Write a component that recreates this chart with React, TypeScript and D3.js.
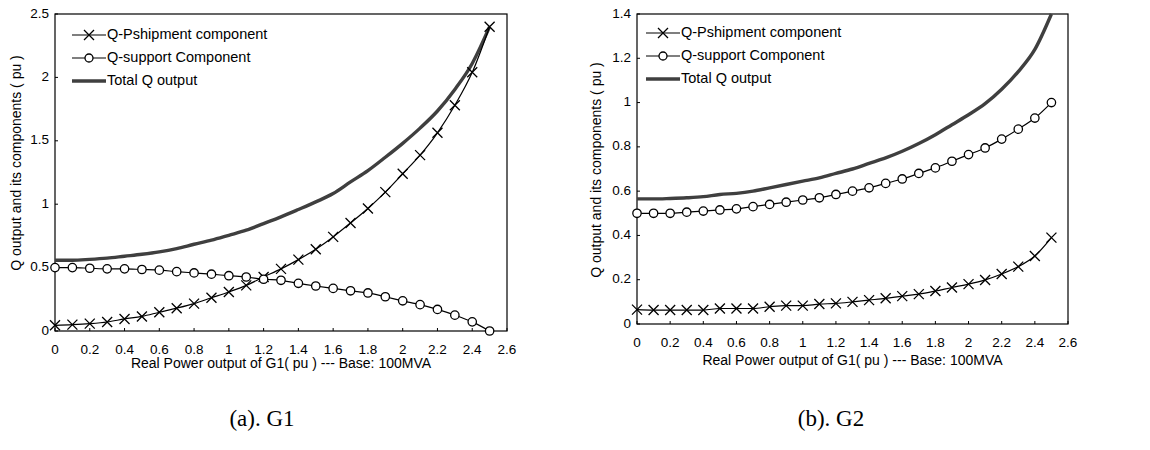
import React from "react";
import * as d3 from "d3";

const xValues = [0, 0.1, 0.2, 0.3, 0.4, 0.5, 0.6, 0.7, 0.8, 0.9, 1.0, 1.1, 1.2, 1.3, 1.4, 1.5, 1.6, 1.7, 1.8, 1.9, 2.0, 2.1, 2.2, 2.3, 2.4, 2.5];

const g1Pshipment = [0.045, 0.05, 0.058, 0.071, 0.095, 0.115, 0.148, 0.18, 0.216, 0.262, 0.308, 0.36, 0.426, 0.49, 0.563, 0.645, 0.742, 0.852, 0.966, 1.095, 1.24, 1.387, 1.563, 1.78, 2.04, 2.40];
const g1Support = [0.50, 0.50, 0.495, 0.49, 0.49, 0.485, 0.48, 0.468, 0.458, 0.448, 0.436, 0.426, 0.408, 0.40, 0.376, 0.355, 0.336, 0.317, 0.30, 0.27, 0.238, 0.208, 0.17, 0.125, 0.072, 0.0];
const g1Total = [0.558, 0.558, 0.565, 0.575, 0.59, 0.605, 0.624, 0.65, 0.684, 0.716, 0.755, 0.795, 0.847, 0.90, 0.958, 1.018, 1.084, 1.176, 1.265, 1.37, 1.48, 1.60, 1.735, 1.905, 2.11, 2.40];

const g2Pshipment = [0.065, 0.063, 0.063, 0.063, 0.063, 0.07, 0.07, 0.07, 0.078, 0.083, 0.083, 0.09, 0.093, 0.10, 0.108, 0.116, 0.126, 0.135, 0.149, 0.165, 0.18, 0.199, 0.226, 0.259, 0.307, 0.39];
const g2Support = [0.50, 0.50, 0.50, 0.505, 0.51, 0.515, 0.52, 0.53, 0.54, 0.55, 0.56, 0.57, 0.585, 0.60, 0.615, 0.635, 0.655, 0.68, 0.705, 0.735, 0.765, 0.795, 0.835, 0.88, 0.93, 1.0];
const g2Total = [0.565, 0.565, 0.567, 0.57, 0.575, 0.585, 0.59, 0.60, 0.615, 0.63, 0.645, 0.66, 0.68, 0.70, 0.725, 0.75, 0.78, 0.815, 0.855, 0.90, 0.945, 0.995, 1.06, 1.14, 1.24, 1.40];

const xTicks = [0, 0.2, 0.4, 0.6, 0.8, 1, 1.2, 1.4, 1.6, 1.8, 2, 2.2, 2.4, 2.6];
const g1YTicks = [0, 0.5, 1, 1.5, 2, 2.5];
const g2YTicks = [0, 0.2, 0.4, 0.6, 0.8, 1, 1.2, 1.4];

const legendLabels = ["Q-Pshipment component", "Q-support Component", "Total Q output"];
const xTitle = "Real Power output of G1( pu ) --- Base: 100MVA";
const yTitle = "Q output and its components ( pu )";
const captions = ["(a). G1", "(b). G2"];

const FONT = "'Liberation Sans', Arial, sans-serif";

type ChartProps = {
  left: number; right: number; top: number; bottom: number;
  yMax: number; yTicks: number[];
  pship: number[]; support: number[]; total: number[];
  legendX: number; legendY: number;
  yTitleX: number; yTitleY: number;
  xTitleY: number; xTickY: number;
  caption: string; captionX: number;
};

function Cross({ x, y }: { x: number; y: number }) {
  const s = 5;
  return (
    <path d={`M${x - s},${y - s}L${x + s},${y + s}M${x - s},${y + s}L${x + s},${y - s}`} stroke="#000" strokeWidth={1.3} fill="none" />
  );
}

function Chart(p: ChartProps) {
  const x = d3.scaleLinear().domain([0, 2.6]).range([p.left, p.right]);
  const y = d3.scaleLinear().domain([0, p.yMax]).range([p.bottom, p.top]);
  const line = d3.line<number>().x((_, i) => x(xValues[i])).y((v) => y(v)).curve(d3.curveMonotoneX);
  const clipId = `clip-${p.left}`;
  return (
    <g>
      <defs>
        <clipPath id={clipId}>
          <rect x={p.left} y={p.top - 1} width={p.right - p.left} height={p.bottom - p.top + 2} />
        </clipPath>
      </defs>
      <rect x={p.left} y={p.top} width={p.right - p.left} height={p.bottom - p.top} fill="none" stroke="#000" strokeWidth={1.2} />
      {xTicks.map((t) => (
        <g key={`xt${t}`}>
          <line x1={x(t)} x2={x(t)} y1={p.bottom} y2={p.bottom - 3} stroke="#000" />
          <text x={x(t)} y={p.xTickY} fontSize={13.5} fontFamily={FONT} textAnchor="middle" dominantBaseline="middle">{t}</text>
        </g>
      ))}
      {p.yTicks.map((t) => (
        <g key={`yt${t}`}>
          <line x1={p.left} x2={p.left + 3} y1={y(t)} y2={y(t)} stroke="#000" />
          <text x={p.left - 6} y={y(t)} fontSize={13.5} fontFamily={FONT} textAnchor="end" dominantBaseline="middle">{t}</text>
        </g>
      ))}
      <text x={(p.left + p.right) / 2} y={p.xTitleY} fontSize={14} fontFamily={FONT} textAnchor="middle" dominantBaseline="middle">{xTitle}</text>
      <text transform={`translate(${p.yTitleX},${p.yTitleY}) rotate(-90)`} fontSize={14} fontFamily={FONT} textAnchor="middle" dominantBaseline="middle">{yTitle}</text>
      <g clipPath={`url(#${clipId})`}>
        <path d={line(p.total) || ""} fill="none" stroke="#3f3f3f" strokeWidth={3.4} />
      </g>
      <path d={line(p.pship) || ""} fill="none" stroke="#000" strokeWidth={1.2} />
      <path d={line(p.support) || ""} fill="none" stroke="#000" strokeWidth={1.2} />
      {p.pship.map((v, i) => <Cross key={`c${i}`} x={x(xValues[i])} y={y(v)} />)}
      {p.support.map((v, i) => (
        <circle key={`o${i}`} cx={x(xValues[i])} cy={y(v)} r={4.2} fill="#fff" stroke="#000" strokeWidth={1.3} />
      ))}
      {legendLabels.map((lab, i) => {
        const ly = p.legendY + i * 23;
        const lx = p.legendX;
        return (
          <g key={lab}>
            <line x1={lx} x2={lx + 34} y1={ly} y2={ly} stroke={i === 2 ? "#3f3f3f" : "#000"} strokeWidth={i === 2 ? 3.4 : 1.2} />
            {i === 0 && <Cross x={lx + 17} y={ly} />}
            {i === 1 && <circle cx={lx + 17} cy={ly} r={4} fill="#fff" stroke="#000" strokeWidth={1.3} />}
            <text x={lx + 35} y={ly} fontSize={14.5} fontFamily={FONT} dominantBaseline="middle">{lab}</text>
          </g>
        );
      })}
      <text x={p.captionX} y={421} fontSize={23} fontFamily="'Liberation Serif', 'Times New Roman', serif" textAnchor="middle" dominantBaseline="middle">{p.caption}</text>
    </g>
  );
}

export default function App() {
  return (
    <svg width={1150} height={450} style={{ position: "absolute", left: 0, top: 0, background: "#fff" }}>
      <rect width={1150} height={450} fill="#fff" />
      <Chart left={55} right={507} top={14} bottom={331} yMax={2.5} yTicks={g1YTicks}
        pship={g1Pshipment} support={g1Support} total={g1Total}
        legendX={72} legendY={35} yTitleX={17} yTitleY={163} xTitleY={364} xTickY={350}
        caption={captions[0]} captionX={262} />
      <Chart left={637} right={1068} top={14} bottom={324} yMax={1.4} yTicks={g2YTicks}
        pship={g2Pshipment} support={g2Support} total={g2Total}
        legendX={646} legendY={33} yTitleX={597} yTitleY={170} xTitleY={361} xTickY={343}
        caption={captions[1]} captionX={831} />
    </svg>
  );
}
